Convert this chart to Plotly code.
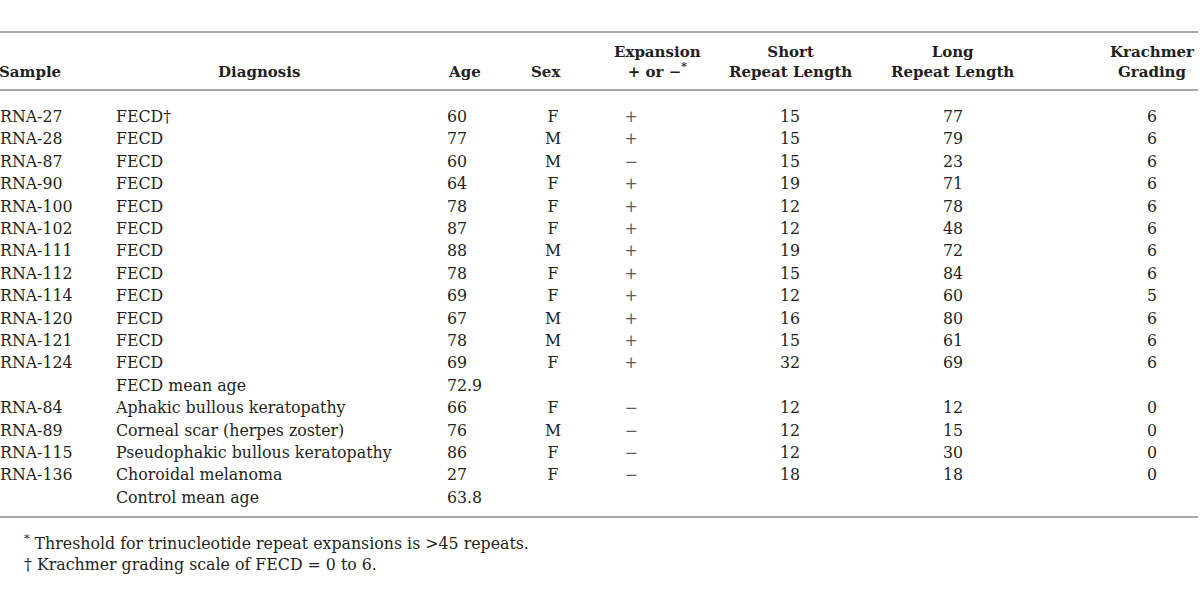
import plotly.graph_objects as go

# ---------------- data ----------------
samples = ["RNA-27", "RNA-28", "RNA-87", "RNA-90", "RNA-100", "RNA-102", "RNA-111",
           "RNA-112", "RNA-114", "RNA-120", "RNA-121", "RNA-124", "",
           "RNA-84", "RNA-89", "RNA-115", "RNA-136", ""]
diagnoses = ["FECD†", "FECD", "FECD", "FECD", "FECD", "FECD", "FECD", "FECD", "FECD",
             "FECD", "FECD", "FECD", "FECD mean age",
             "Aphakic bullous keratopathy", "Corneal scar (herpes zoster)",
             "Pseudophakic bullous keratopathy", "Choroidal melanoma", "Control mean age"]
ages = ["60", "77", "60", "64", "78", "87", "88", "78", "69", "67", "78", "69", "72.9",
        "66", "76", "86", "27", "63.8"]
sexes = ["F", "M", "M", "F", "F", "F", "M", "F", "F", "M", "M", "F", "",
         "F", "M", "F", "F", ""]
expansion = ["+", "+", "−", "+", "+", "+", "+", "+", "+", "+", "+", "+", "",
             "−", "−", "−", "−", ""]
short_repeat = ["15", "15", "15", "19", "12", "12", "19", "15", "12", "16", "15", "32", "",
                "12", "12", "12", "18", ""]
long_repeat = ["77", "79", "23", "71", "78", "48", "72", "84", "60", "80", "61", "69", "",
               "12", "15", "30", "18", ""]
grading = ["6", "6", "6", "6", "6", "6", "6", "6", "5", "6", "6", "6", "",
           "0", "0", "0", "0", ""]

headers = ["Sample", "Diagnosis", "Age", "Sex", "Expansion<br>+ or −<sup>*</sup>",
           "Short<br>Repeat Length", "Long<br>Repeat Length", "Krachmer<br>Grading"]
footnotes = ["<sup>*</sup> Threshold for trinucleotide repeat expansions is &gt;45 repeats.",
             "† Krachmer grading scale of FECD = 0 to 6."]

# ---------------- layout ----------------
FONT = "DejaVu Serif"
FS = 15.8
COLOR = "#231f20"
SYMBOL_COLOR = "#5a5a5a"
RULE = "#8a8a8a"

row0 = 118
dy = 22.4
row_y = [row0 + i * dy for i in range(len(samples))]

columns = [
    (samples, 0, "left", COLOR),
    (diagnoses, 116, "left", COLOR),
    (ages, 447, "left", COLOR),
    (sexes, 553, "center", COLOR),
    (expansion, 631, "center", SYMBOL_COLOR),
    (short_repeat, 790, "center", COLOR),
    (long_repeat, 953, "center", COLOR),
    (grading, 1152, "center", COLOR),
]
header_pos = [(0, "left", -3), (259, "center", 0), (448, "left", -2), (546, "center", 0),
              (657, "center", 0), (790, "center", 0), (952, "center", 0), (1152, "center", 0)]

fig = go.Figure()

for vals, x, anchor, col in columns:
    ys = [y for y, v in zip(row_y, vals) if v]
    txt = [v for v in vals if v]
    fig.add_trace(go.Scatter(
        x=[x] * len(txt), y=ys, text=txt, mode="text",
        textposition="middle right" if anchor == "left" else "middle center",
        textfont=dict(family=FONT, size=FS, color=col),
        hoverinfo="skip", showlegend=False, cliponaxis=False))

for h, (x, anchor, shift) in zip(headers, header_pos):
    fig.add_annotation(
        x=x, y=83, xref="x", yref="y", text="<b>" + h + "</b>",
        xanchor=anchor, yanchor="bottom", showarrow=False, align="center",
        xshift=shift,
        font=dict(family=FONT, size=FS - 0.8, color=COLOR))

for i, t in enumerate(footnotes):
    fig.add_annotation(
        x=22, y=542 + i * 22, xref="x", yref="y", text=t,
        xanchor="left", yanchor="middle", showarrow=False,
        font=dict(family=FONT, size=FS, color=COLOR))

for yy in [32, 90, 517]:
    fig.add_shape(type="line", x0=0, x1=1198, y0=yy, y1=yy, xref="x", yref="y",
                  line=dict(color=RULE, width=1.5))

fig.update_layout(
    width=1200, height=600,
    margin=dict(l=0, r=0, t=0, b=0),
    paper_bgcolor="white", plot_bgcolor="white",
    xaxis=dict(range=[0, 1200], visible=False, fixedrange=True),
    yaxis=dict(range=[600, 0], visible=False, fixedrange=True),
)

fig.write_html(
    "out.html",
    config={"displayModeBar": False, "staticPlot": True},
    post_script="document.body.style.margin='0';document.body.style.overflow='hidden';",
)
